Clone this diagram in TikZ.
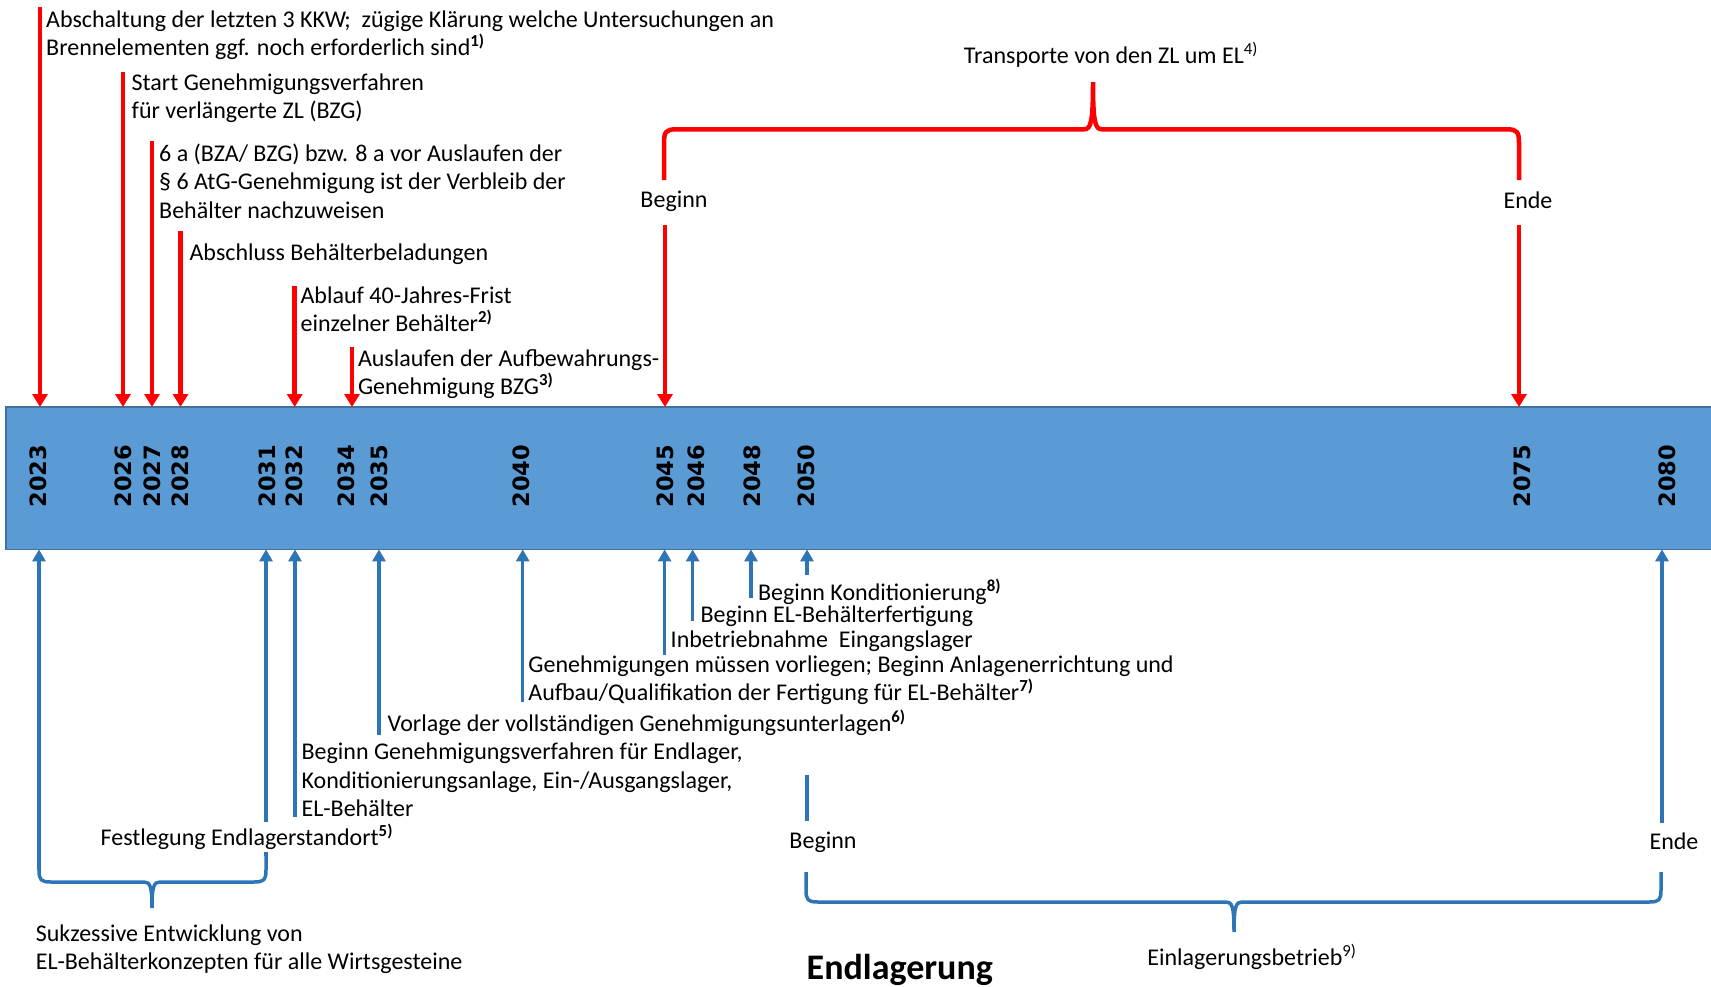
\documentclass[tikz,border=0pt]{standalone}
\usepackage{fontspec}
\setmainfont{Carlito}
\newfontfamily\yearfont{DejaVu Sans}
\usetikzlibrary{arrows.meta}
\definecolor{myred}{RGB}{255,0,0}
\definecolor{myblue}{RGB}{46,117,182}
\definecolor{bandfill}{RGB}{91,155,213}
\definecolor{bandedge}{RGB}{65,113,156}
\newcommand\fnb[1]{\textsuperscript{\bfseries #1)}}
\newcommand\fnr[1]{\textsuperscript{#1)}}
\tikzset{
 redarrow/.style={draw=myred, line width=4.5pt, -{Triangle[width=15pt,length=13pt]}},
 bluearrow/.style={draw=myblue, line width=3.5pt, -{Triangle[width=13pt,length=12pt]}},
 redline/.style={draw=myred, line width=4.5pt},
 blueline/.style={draw=myblue, line width=3.5pt},
 lbl/.style={font=\fontsize{24}{28.4}\selectfont, inner sep=0pt, align=left, anchor=west},
 clbl/.style={font=\fontsize{24}{28.4}\selectfont, inner sep=0pt},
 year/.style={font=\yearfont\bfseries\fontsize{22.5}{22.5}\selectfont, rotate=90, inner sep=0pt},
 bandbox/.style={fill=bandfill, inner sep=0pt, anchor=north west},
}
\begin{document}
\begin{tikzpicture}[x=1pt,y=-1pt]
\useasboundingbox (0,0) rectangle (1711,986);
% band
\node[bandbox, minimum width=1705pt, minimum height=142pt] (band) at (6,407) {};
\draw[bandedge, line width=1.2pt] (band.north east) -- (band.north west) -- (band.south west) -- (band.south east);
\foreach \yr/\x in {2023/38,2026/123,2027/152,2028/180,2031/267,2032/294.5,2034/346,2035/379,2040/521,2045/665,2046/696,2048/752,2050/806.5,2075/1522,2080/1667}
  \node[year] (y\yr) at (\x,476) {\yr};
% red arrows
\coordinate (r1) at (40,7);
\coordinate (r2) at (123,72);
\coordinate (r3) at (152,141);
\coordinate (r4) at (180.5,231);
\coordinate (r5) at (294.7,286);
\coordinate (r6) at (352,347);
\coordinate (r7) at (665,225);
\coordinate (r8) at (1519,225);
\foreach \c in {r1,r2,r3,r4,r5,r6,r7,r8}
  \draw[redarrow] (\c) -- (\c |- band.north);
\node[lbl] (t1) at (46,35.5) {Abschaltung der letzten 3 KKW;\ \ zügige Klärung welche Untersuchungen an\\Brennelementen ggf. noch erforderlich sind\fnb{1}};
\node[lbl] (t2) at (131.5,98.3) {Start Genehmigungsverfahren\\für verlängerte ZL (BZG)};
\node[lbl] (t3) at (159,181) {6 a (BZA/ BZG) bzw. 8 a vor Auslaufen der\\§ 6 AtG-Genehmigung ist der Verbleib der\\Behälter nachzuweisen};
\node[lbl] (t4) at (189.4,254) {Abschluss Behälterbeladungen};
\node[lbl] (t5) at (300.4,309) {Ablauf 40-Jahres-Frist\\einzelner Behälter\fnb{2}};
\node[lbl] (t6) at (357.8,374) {Auslaufen der Aufbewahrungs-\\Genehmigung BZG\fnb{3}};
\node[clbl] (rbeg) at (674,201.5) {Beginn};
\node[clbl] (rend) at (1528,200) {Ende};
\node[clbl] (ttr) at (1111,55) {Transporte von den ZL um EL\fnr{4}};
% red brace
\coordinate (rbL) at (664,180);
\coordinate (rbR) at (1519,180);
\coordinate (rbT) at (1093,82);
\draw[redline] (rbL) -- (664,143) .. controls (664,132) and (666,129.3) .. (676,129.3) -- (1084,129.3) .. controls (1091,129.3) and (1093,122) .. (rbT) .. controls (1093,122) and (1095,129.3) .. (1102,129.3) -- (1507,129.3) .. controls (1517,129.3) and (1519,132) .. (1519,143) -- (rbR);
% blue arrows
\coordinate (b1) at (39,870);
\coordinate (b2) at (266,856);
\coordinate (b3) at (295,817);
\coordinate (b4) at (379,735);
\coordinate (b5) at (522.7,702);
\coordinate (b6) at (664.6,655);
\coordinate (b7) at (692.6,621);
\coordinate (b8) at (751,598);
\coordinate (b9) at (807,575);
\coordinate (b10) at (1662,823);
\foreach \c in {b1,b2,b3,b4,b5,b6,b7,b8,b9,b10}
  \draw[bluearrow] (\c) -- (\c |- band.south);
% left blue brace
\coordinate (blT) at (152,908);
\draw[blueline] (b1) .. controls (39,880) and (41,882) .. (51,882) -- (144,882) .. controls (150,882) and (152,886) .. (blT) .. controls (152,886) and (154,882) .. (160,882) -- (254,882) .. controls (264,882) and (266,880) .. (266,870) -- (b2);
% right blue brace
\coordinate (bb1) at (807,775);
\coordinate (bb2) at (807,821);
\draw[blueline] (bb1) -- (bb2);
\coordinate (brL) at (806,872);
\coordinate (brR) at (1661,872);
\coordinate (brT) at (1234,932);
\draw[blueline] (brL) -- (806,890) .. controls (806,900) and (808,902) .. (818,902) -- (1226,902) .. controls (1232,902) and (1234,906) .. (brT) .. controls (1234,906) and (1236,902) .. (1242,902) -- (1649,902) .. controls (1659,902) and (1661,900) .. (1661,890) -- (brR);
% blue labels
\node[lbl] (u8) at (757.8,591.7) {Beginn Konditionierung\fnb{8}};
\node[lbl] (u7) at (700.4,616) {Beginn EL-Behälterfertigung};
\node[lbl] (u6) at (670.5,641.7) {Inbetriebnahme\ \ Eingangslager};
\node[lbl] (u5) at (528.2,680) {Genehmigungen müssen vorliegen; Beginn Anlagenerrichtung und\\Aufbau/Qualifikation der Fertigung für EL-Behälter\fnb{7}};
\node[lbl] (u4) at (387.5,723.3) {Vorlage der vollständigen Genehmigungsunterlagen\fnb{6}};
\node[lbl] (u3) at (301.4,780) {Beginn Genehmigungsverfahren für Endlager,\\Konditionierungsanlage, Ein-/Ausgangslager,\\EL-Behälter};
\node[lbl, fill=white, inner ysep=2pt] (u2) at (100.5,837) {Festlegung Endlagerstandort\fnb{5}};
\node[lbl] (u1) at (35.6,949.5) {Sukzessive Entwicklung von\\EL-Behälterkonzepten für alle Wirtsgesteine};
\node[clbl] (bbeg) at (823,842.5) {Beginn};
\node[clbl] (bend) at (1674,841.5) {Ende};
\node[clbl] (ebt) at (1252,957) {Einlagerungsbetrieb\fnr{9}};
\node[lbl, font=\bfseries\fontsize{36}{42}\selectfont] (endl) at (806.5,969.5) {Endlagerung};
\end{tikzpicture}
\end{document}
